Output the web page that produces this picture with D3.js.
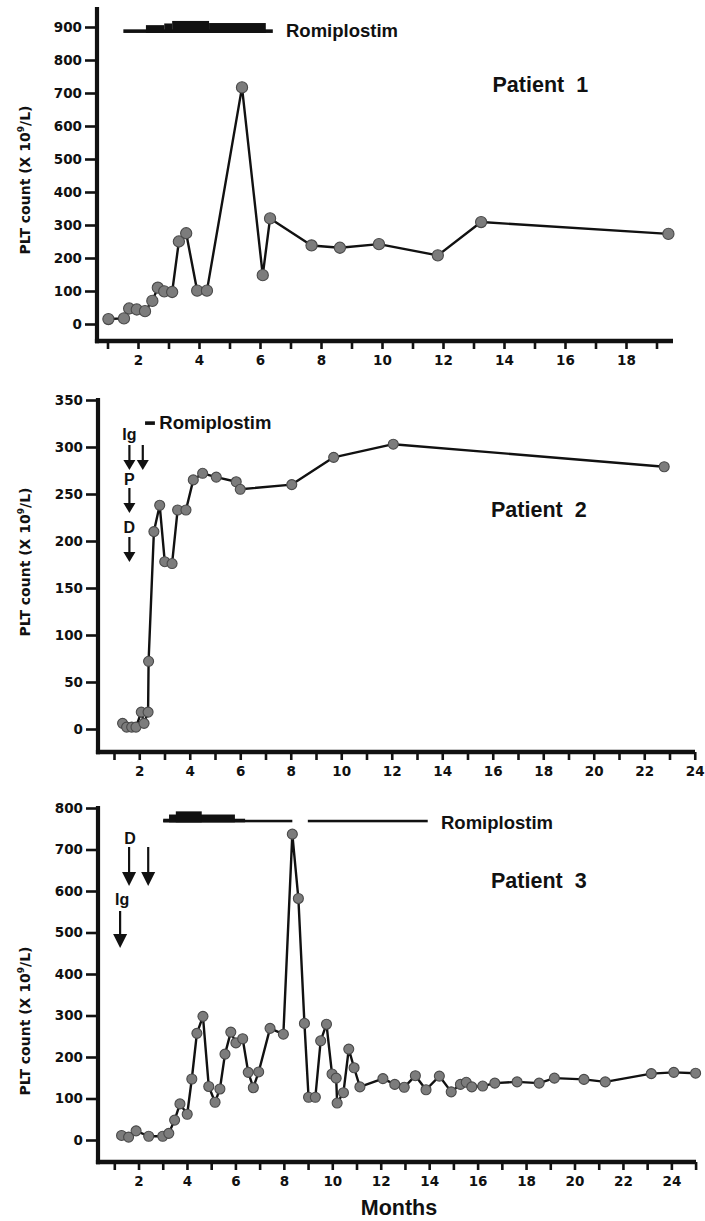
<!DOCTYPE html>
<html>
<head>
<meta charset="utf-8">
<script src="https://cdn.jsdelivr.net/npm/d3@7"></script>
<style>
  body { margin: 0; background: #fff; }
  svg { display: block; }
</style>
</head>
<body>
<script>
// ---------------- DATA ----------------
// Patient 1
const months1 = [1.03, 1.54, 1.71, 1.96, 2.23, 2.47, 2.65, 2.86, 3.12, 3.34, 3.58, 3.94, 4.26, 5.41, 6.09, 6.33, 7.69, 8.62, 9.9, 11.83, 13.25, 19.39];
const plt1    = [15, 17, 47, 44, 39, 70, 110, 99, 97, 250, 275, 101, 101, 717, 148, 320, 238, 231, 242, 208, 309, 273];
// Patient 2
const months2 = [1.34, 1.50, 1.70, 1.87, 2.08, 2.19, 2.35, 2.37, 2.58, 2.81, 3.01, 3.30, 3.52, 3.85, 4.14, 4.51, 5.05, 5.84, 6.0, 8.04, 9.70, 12.06, 22.79];
const plt2    = [6, 2, 2, 2, 18, 6, 18, 72, 210, 238, 178, 176, 233, 233, 265, 272, 268, 263, 255, 260, 289, 303, 279];
// Patient 3
const months3 = [1.30, 1.59, 1.90, 2.42, 3.00, 3.25, 3.49, 3.71, 4.01, 4.20, 4.41, 4.66, 4.90, 5.16, 5.36, 5.57, 5.81, 6.02, 6.30, 6.53, 6.74, 6.96, 7.43, 7.98, 8.35, 8.60, 8.85, 9.02, 9.30, 9.52, 9.76, 9.99, 10.16, 10.20, 10.46, 10.68, 10.90, 11.14, 12.09, 12.58, 12.97, 13.43, 13.87, 14.42, 14.91, 15.29, 15.53, 15.76, 16.21, 16.71, 17.63, 18.54, 19.17, 20.39, 21.27, 23.17, 24.10, 25.0];
const plt3    = [11, 7, 22, 9, 9, 16, 48, 87, 62, 147, 257, 298, 129, 91, 123, 207, 260, 234, 244, 163, 126, 164, 269, 255, 737, 582, 281, 103, 103, 239, 279, 159, 149, 89, 114, 219, 174, 128, 148, 134, 127, 155, 121, 154, 116, 134, 139, 128, 130, 137, 140, 137, 149, 146, 140, 160, 163, 161];

// Romiplostim dosing segments: [start month, end month, dose level]
const romi1 = [[1.52, 6.42, 1], [2.26, 2.86, 3], [2.86, 3.12, 3.8], [3.12, 4.33, 5], [4.33, 6.19, 4]];
const romi2 = [[2.23, 2.62, 1]];
const romi3 = [[3.02, 8.35, 0.5], [8.99, 13.94, 0.5], [3.02, 6.40, 1], [3.26, 5.98, 3], [3.54, 4.61, 4.5]];

// Treatment arrows (months)
const arrows2 = [{label: "Ig", m: 1.61}, {label: "", m: 2.14}, {label: "P", m: 1.61}, {label: "D", m: 1.61}];
const arrows3 = [{label: "D", m: 1.61}, {label: "", m: 2.40}, {label: "Ig", m: 1.24}];

// Tick values
const yTicks1 = [0, 100, 200, 300, 400, 500, 600, 700, 800, 900];
const yTicks2 = [0, 50, 100, 150, 200, 250, 300, 350];
const yTicks3 = [0, 100, 200, 300, 400, 500, 600, 700, 800];
const xTicks1 = d3.range(1, 20);
const xTicks2 = d3.range(1, 25);
const xTicks3 = d3.range(1, 26);

const yLabel = "PLT count (X 10";
// --------------------------------------

const W = 705, H = 1221;
const svg = d3.select("body").append("svg").attr("width", W).attr("height", H);
const INK = "#111";
const TICKFONT = "'DejaVu Sans', Verdana, sans-serif";
const ANNFONT = "'Liberation Sans', Arial, Helvetica, sans-serif";

function panel(cfg) {
  const g = svg.append("g");
  const x = d3.scaleLinear().domain(cfg.xDom).range(cfg.xRng);
  const y = d3.scaleLinear().domain(cfg.yDom).range(cfg.yRng);

  const xa = d3.axisBottom(x).tickValues(cfg.xTicks)
    .tickFormat(d => d % 2 === 0 ? d : "").tickSize(8).tickSizeOuter(0);
  const gx = g.append("g").attr("transform", `translate(0,${cfg.bottom})`).call(xa);
  gx.select(".domain").remove();
  gx.selectAll(".tick line").attr("stroke", INK).attr("stroke-width", 2.6);
  gx.selectAll(".tick text").attr("fill", INK).attr("font-family", TICKFONT)
    .attr("font-weight", "bold").attr("font-size", 13.5).attr("y", 14.5).attr("dy", "0.71em");

  const ya = d3.axisLeft(y).tickValues(cfg.yTicks).tickSize(12).tickPadding(3).tickSizeOuter(0);
  const gy = g.append("g").attr("transform", `translate(${cfg.left},0)`).call(ya);
  gy.select(".domain").remove();
  gy.selectAll(".tick line").attr("stroke", INK).attr("stroke-width", 2.6);
  gy.selectAll(".tick text").attr("fill", INK).attr("font-family", TICKFONT)
    .attr("font-weight", "bold").attr("font-size", 13.5);

  g.append("line").attr("x1", cfg.left).attr("x2", cfg.left)
    .attr("y1", cfg.top).attr("y2", cfg.bottom + 2.2)
    .attr("stroke", INK).attr("stroke-width", 4.2);
  g.append("line").attr("x1", cfg.left - 2.1).attr("x2", cfg.right)
    .attr("y1", cfg.bottom).attr("y2", cfg.bottom)
    .attr("stroke", INK).attr("stroke-width", 4.5);

  const t = g.append("text")
    .attr("transform", `translate(30,${cfg.labelY}) rotate(-90)`)
    .attr("text-anchor", "middle").attr("fill", INK)
    .attr("font-family", TICKFONT).attr("font-weight", "bold").attr("font-size", 14);
  t.append("tspan").text(yLabel);
  t.append("tspan").attr("font-size", 9).attr("dy", -6).text("9");
  t.append("tspan").attr("dy", 6).text("/L)");

  const hScale = d3.scaleLinear().domain([0, 5]).range([1.5, 12]);
  const baseY = y(cfg.romiBase);
  g.selectAll(null).data(cfg.romi).enter().append("rect")
    .attr("x", d => x(d[0])).attr("width", d => x(d[1]) - x(d[0]))
    .attr("y", d => baseY - hScale(d[2])).attr("height", d => hScale(d[2]))
    .attr("fill", INK);
  g.append("text").attr("x", cfg.romiText[0]).attr("y", cfg.romiText[1])
    .attr("font-family", ANNFONT).attr("font-weight", "bold").attr("font-size", 18.5)
    .attr("fill", INK).text("Romiplostim");

  g.append("text").attr("x", cfg.patText[0]).attr("y", cfg.patText[1])
    .attr("font-family", ANNFONT).attr("font-weight", "bold").attr("font-size", 21.5)
    .attr("fill", INK).attr("xml:space", "preserve").style("white-space", "pre")
    .text(cfg.patient);

  const pts = cfg.months.map((m, i) => [m, cfg.plt[i]]);
  g.append("path").datum(pts)
    .attr("d", d3.line().x(d => x(d[0])).y(d => y(d[1])))
    .attr("fill", "none").attr("stroke", INK).attr("stroke-width", 2.4)
    .attr("stroke-linejoin", "round");
  g.selectAll(null).data(pts).enter().append("circle")
    .attr("cx", d => x(d[0])).attr("cy", d => y(d[1])).attr("r", cfg.r)
    .attr("fill", "#7c7c7c").attr("stroke", "#4a4a4a").attr("stroke-width", 1.1);

  cfg.arrows.forEach((a, i) => {
    const lay = cfg.arrowLayout[i];
    const ax = x(a.m);
    g.append("line").attr("x1", ax).attr("x2", ax).attr("y1", lay.y0).attr("y2", lay.y1 - lay.hh + 1)
      .attr("stroke", INK).attr("stroke-width", 2.2);
    g.append("path")
      .attr("d", `M${ax - lay.hw / 2},${lay.y1 - lay.hh} L${ax + lay.hw / 2},${lay.y1 - lay.hh} L${ax},${lay.y1} Z`)
      .attr("fill", INK);
    if (a.label) {
      g.append("text").attr("x", ax + (lay.dx || 0)).attr("y", lay.ty)
        .attr("text-anchor", "middle").attr("font-family", ANNFONT)
        .attr("font-weight", "bold").attr("font-size", 16).attr("fill", INK).text(a.label);
    }
  });
  return {x, y};
}

panel({
  months: months1, plt: plt1, patient: "Patient  1", r: 5.6,
  xDom: [1, 19], xRng: [107.5, 656.5], yDom: [0, 900], yRng: [324, 27],
  left: 97, right: 673, top: 7, bottom: 341,
  xTicks: xTicks1, yTicks: yTicks1, labelY: 180,
  romi: romi1, romiBase: 882, romiText: [286, 36.5], patText: [492.5, 91.5],
  arrows: [], arrowLayout: []
});

panel({
  months: months2, plt: plt2, patient: "Patient  2", r: 5,
  xDom: [1, 24], xRng: [114, 694.75], yDom: [0, 350], yRng: [729, 400],
  left: 98, right: 695, top: 398, bottom: 752,
  xTicks: xTicks2, yTicks: yTicks2, labelY: 562,
  romi: romi2, romiBase: 323.5, romiText: [159.3, 428.5], patText: [491, 516.5],
  arrows: arrows2,
  arrowLayout: [
    {y0: 445, y1: 470, hw: 12, hh: 10, ty: 440},
    {y0: 445, y1: 470, hw: 12, hh: 10},
    {y0: 488, y1: 513, hw: 12, hh: 10, ty: 485},
    {y0: 537, y1: 562, hw: 12, hh: 10, ty: 532.5}
  ]
});

panel({
  months: months3, plt: plt3, patient: "Patient  3", r: 5,
  xDom: [1, 25], xRng: [114.3, 695.6], yDom: [0, 800], yRng: [1140, 808],
  left: 98, right: 696, top: 806, bottom: 1162,
  xTicks: xTicks3, yTicks: yTicks3, labelY: 1021,
  romi: romi3, romiBase: 765.5, romiText: [441, 828.5], patText: [491, 888],
  arrows: arrows3,
  arrowLayout: [
    {y0: 847, y1: 886, hw: 14, hh: 14, ty: 844, dx: 1},
    {y0: 847, y1: 886, hw: 14, hh: 14},
    {y0: 911, y1: 948, hw: 14, hh: 14, ty: 905, dx: 2}
  ]
});

svg.append("text").attr("x", 399).attr("y", 1215).attr("text-anchor", "middle")
  .attr("font-family", ANNFONT).attr("font-weight", "bold").attr("font-size", 21.5)
  .attr("fill", INK).text("Months");
</script>
</body>
</html>
